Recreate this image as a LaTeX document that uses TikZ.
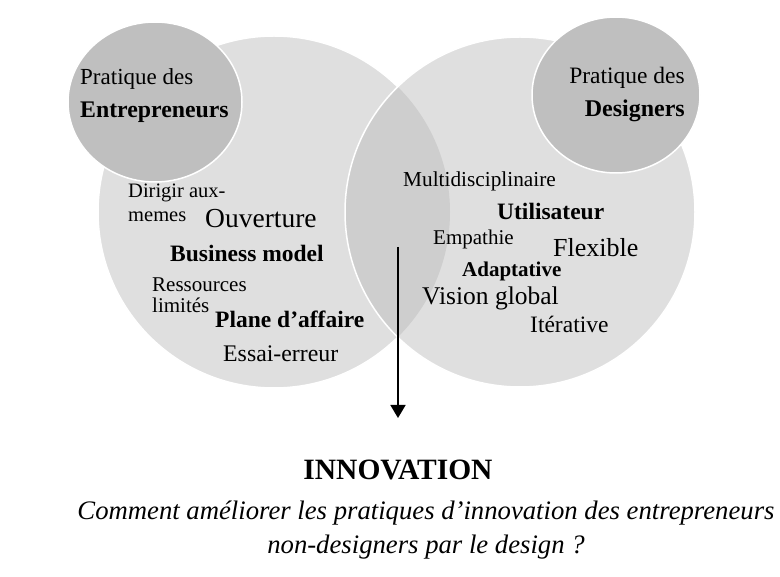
\documentclass[tikz,border=0pt]{standalone}
\usepackage{fontspec}
\setmainfont{Liberation Serif}
\usetikzlibrary{positioning,arrows.meta}
\definecolor{venn}{RGB}{223,223,223}
\definecolor{overlap}{RGB}{206,206,206}
\definecolor{practice}{RGB}{191,191,191}
\newcommand\sz[1]{\fontsize{#1}{#1}\selectfont}

\begin{document}
\begin{tikzpicture}[
x=1pt, y=-1pt,
big/.style={fill=venn, draw=white, line width=1.5pt},
small/.style={fill=practice, draw=white, line width=1.5pt},
word/.style={inner sep=0pt, anchor=base west},
]
\useasboundingbox (0,0) rectangle (780,577);

% two fields of practice and their overlap
\path[big] (274,212) circle (176);
\path[fill=venn] (520,212) circle (175);
\begin{scope}
\clip (274,212) circle (176);
\fill[overlap] (520,212) circle (175);
\end{scope}
\draw[white, line width=1.5pt] (520,212) circle (175);
\path[small] (155,102) ellipse (87 and 80);
\path[small] (616,95) ellipse (84 and 78);

% circle titles
\node[word] (pe1) at (80,85) {\sz{23}Pratique des};
\node[word] (pe2) at (80,118) {\sz{23.8}\bfseries Entrepreneurs};
\node[word, anchor=base east] (pd1) at (685,84) {\sz{23.5}Pratique des};
\node[word, anchor=base east] (pd2) at (685,117) {\sz{24}\bfseries Designers};

% entrepreneurs
\node[word] (dirigir) at (128,198) {\sz{20.5}Dirigir aux-};
\node[word] (memes) at (128,222) {\sz{20.5}memes};
\node[word] (ouvert) at (205,228) {\sz{27.5}Ouverture};
\node[word] (busi) at (170,262) {\sz{23.5}\bfseries Business model};
\node[word] (ress) at (152,292) {\sz{21}Ressources};
\node[word] (limit) at (152,313) {\sz{21}limités};
\node[word] (plane) at (215,328) {\sz{23.5}\bfseries Plane d’affaire};
\node[word] (essai) at (223,362) {\sz{23.8}Essai-erreur};

% designers
\node[word] (multi) at (403,187) {\sz{21.3}Multidisciplinaire};
\node[word] (util) at (497,220) {\sz{23.5}\bfseries Utilisateur};
\node[word] (empa) at (433,245) {\sz{21}Empathie};
\node[word] (flex) at (553,257) {\sz{26}Flexible};
\node[word] (adapt) at (462,277) {\sz{21}\bfseries Adaptative};
\node[word] (vision) at (422,305) {\sz{25.5}Vision global};
\node[word] (iter) at (530,333) {\sz{23.5}Itérative};

% result
\coordinate (start) at (398,247);
\coordinate (tip) at (398,418);
\draw[line width=1.8pt, -{Triangle[width=15pt,length=13pt]}] (start) -- (tip);
\node[inner sep=0pt, below=42pt of tip] (innov) {\sz{29.5}\bfseries INNOVATION};
\node[word, anchor=base] (q1) at (426,520)
  {\sz{26.7}\itshape Comment améliorer les pratiques d’innovation des entrepreneurs};
\node[word, anchor=base] (q2) at (426,554)
  {\sz{26.7}\itshape non-designers par le design ?};
\end{tikzpicture}
\end{document}
